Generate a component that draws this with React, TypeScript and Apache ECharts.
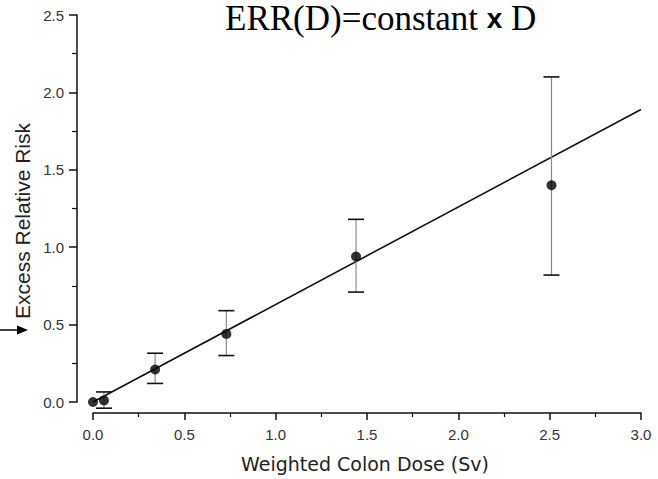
import React, { useEffect, useRef } from "react";
import * as echarts from "echarts";

// Dose categories (Sv) and observed excess relative risk
const doses = [0.0, 0.06, 0.34, 0.73, 1.44, 2.51];
const errValues = [0.0, 0.01, 0.21, 0.44, 0.94, 1.4];
const errLow = [null, -0.04, 0.12, 0.3, 0.71, 0.82];
const errHigh = [null, 0.065, 0.315, 0.59, 1.18, 2.1];
// Fitted linear model ERR(D) = constant x D
const fitDose = [0, 3.0];
const fitErr = [0, 1.89];

const titleText = "ERR(D)=constant ";
const xName = "Weighted Colon Dose (Sv)";
const yName = "Excess Relative Risk";

export default function App() {
  const ref = useRef<HTMLDivElement>(null);
  useEffect(() => {
    if (!ref.current) return;
    const chart = echarts.init(ref.current, null, { renderer: "svg" });
    const pts = doses.map((d, i) => [d, errValues[i]]);
    const bars = doses
      .map((d, i) => [d, errLow[i], errHigh[i]])
      .filter((r) => r[1] !== null && r[2] !== null);
    const fit = fitDose.map((d, i) => [d, fitErr[i]]);
    const labelFont = "Liberation Sans";
    chart.setOption({
      animation: false,
      backgroundColor: "#ffffff",
      title: {
        text: "{a|" + titleText + "}{b|x}{a| D}",
        left: 225,
        top: 0,
        padding: 0,
        textStyle: {
          fontWeight: "normal",
          rich: {
            a: { fontFamily: "Liberation Serif", fontSize: 35, lineHeight: 36, fontWeight: "normal", color: "#000" },
            b: { fontFamily: "Liberation Sans", fontSize: 28, lineHeight: 36, fontWeight: "bold", color: "#000" },
          },
        },
      },
      grid: { left: 93, right: 17, top: 15, bottom: 77, containLabel: false },
      xAxis: {
        type: "value",
        min: 0,
        max: 3,
        interval: 0.5,
        offset: 11,
        axisLine: { show: true, onZero: false, lineStyle: { color: "#111", width: 1.5 } },
        axisTick: { show: true, inside: false, length: 7, lineStyle: { color: "#111", width: 1.5 } },
        minorTick: { show: true, splitNumber: 2, length: 4, lineStyle: { color: "#111", width: 1.2 } },
        splitLine: { show: false },
        axisLabel: {
          margin: 14,
          fontFamily: labelFont,
          fontSize: 15,
          color: "#333",
          formatter: (v: number) => v.toFixed(1),
        },
      },
      yAxis: {
        type: "value",
        min: 0,
        max: 2.5,
        interval: 0.5,
        offset: 16,
        axisLine: { show: true, onZero: false, lineStyle: { color: "#111", width: 1.5 } },
        axisTick: { show: true, inside: false, length: 8, lineStyle: { color: "#111", width: 1.5 } },
        minorTick: { show: true, splitNumber: 2, length: 5, lineStyle: { color: "#111", width: 1.2 } },
        splitLine: { show: false },
        axisLabel: {
          margin: 13,
          fontFamily: labelFont,
          fontSize: 15,
          color: "#333",
          formatter: (v: number) => v.toFixed(1),
        },
      },
      graphic: [
        {
          type: "text",
          x: 22,
          y: 221,
          rotation: Math.PI / 2,
          style: {
            text: yName,
            fontFamily: labelFont,
            fontSize: 21,
            fill: "#222",
            align: "center",
            verticalAlign: "middle",
          },
        },
        {
          type: "text",
          x: 365,
          y: 464,
          style: {
            text: xName,
            fontFamily: "DejaVu Sans",
            fontSize: 19,
            fill: "#222",
            align: "center",
            verticalAlign: "middle",
          },
        },
        {
          type: "line",
          shape: { x1: 0, y1: 330, x2: 20, y2: 330 },
          style: { stroke: "#000", lineWidth: 1.5 },
        },
        {
          type: "polygon",
          shape: { points: [[17, 325.5], [28, 330], [17, 334.5]] },
          style: { fill: "#000" },
        },
      ],
      series: [
        {
          type: "line",
          data: fit,
          symbol: "none",
          lineStyle: { color: "#111", width: 1.6 },
          z: 2,
        },
        {
          type: "custom",
          data: bars,
          z: 3,
          renderItem: (params: any, api: any) => {
            const x = api.value(0);
            const lo = api.coord([x, api.value(1)]);
            const hi = api.coord([x, api.value(2)]);
            const hw = 8;
            return {
              type: "group",
              children: [
                {
                  type: "line",
                  shape: { x1: lo[0], y1: lo[1], x2: hi[0], y2: hi[1] },
                  style: { stroke: "#8a8a8a", lineWidth: 1.2 },
                },
                {
                  type: "line",
                  shape: { x1: lo[0] - hw, y1: lo[1], x2: lo[0] + hw, y2: lo[1] },
                  style: { stroke: "#111", lineWidth: 1.6 },
                },
                {
                  type: "line",
                  shape: { x1: hi[0] - hw, y1: hi[1], x2: hi[0] + hw, y2: hi[1] },
                  style: { stroke: "#111", lineWidth: 1.6 },
                },
              ],
            };
          },
        },
        {
          type: "scatter",
          data: pts,
          symbol: "circle",
          symbolSize: 10,
          itemStyle: { color: "#000" },
          z: 4,
        },
      ],
    });
    return () => chart.dispose();
  }, []);
  return (
    <div
      ref={ref}
      style={{ position: "fixed", left: 0, top: 0, width: 658, height: 479 }}
    />
  );
}
